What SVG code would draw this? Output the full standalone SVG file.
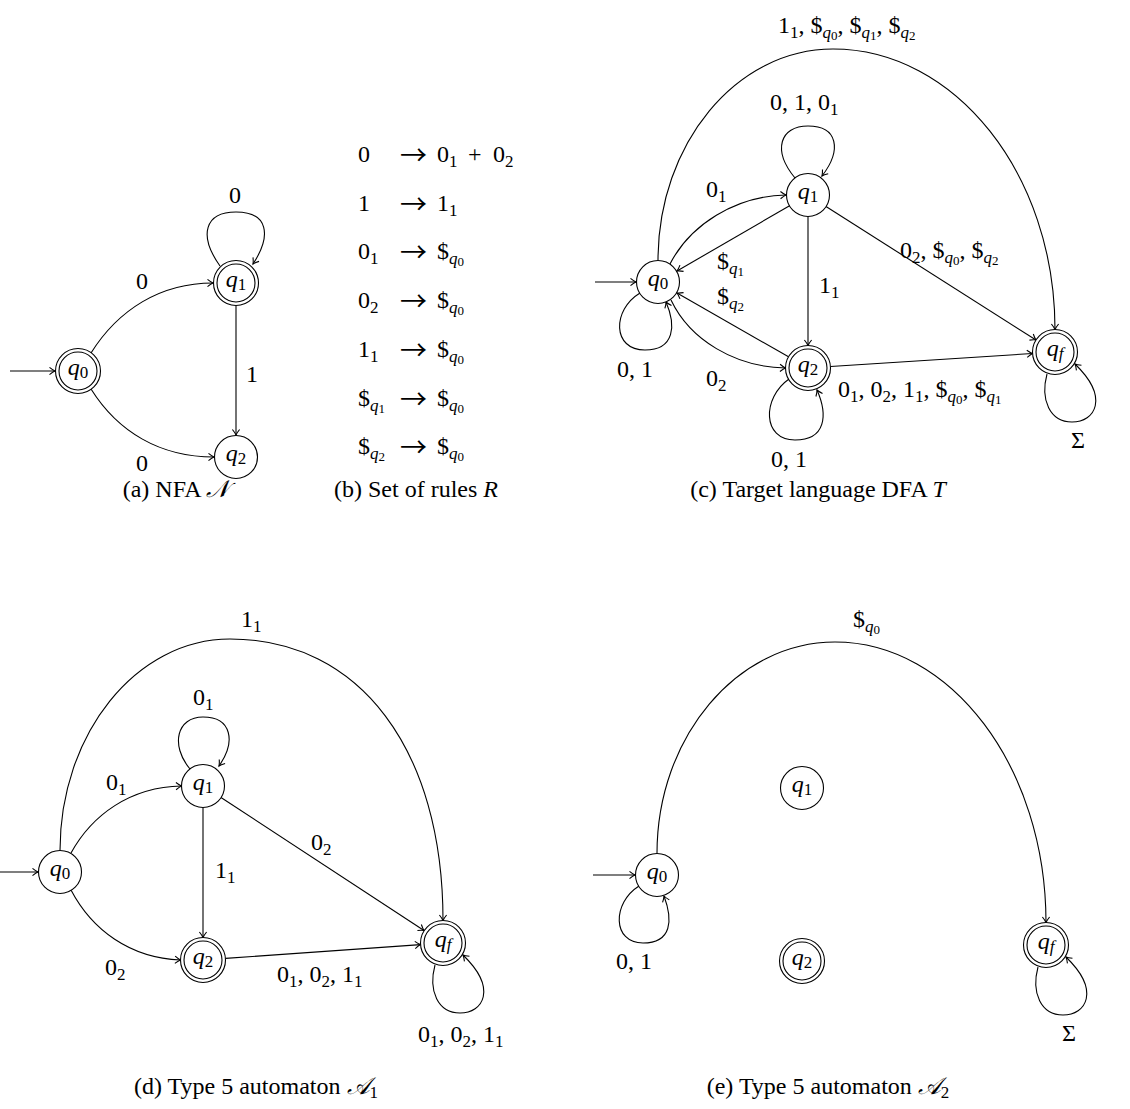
<svg xmlns="http://www.w3.org/2000/svg" width="1130" height="1109" viewBox="0 0 1130 1109">
<style>
text{font-family:"Liberation Serif","DejaVu Serif",serif;font-size:24px;fill:#000}
.i{font-style:italic}
.s{font-size:17px}
.ss{font-size:13px}
.c{font-family:"Liberation Serif","DejaVu Serif","DejaVu Sans",serif;font-style:italic}
.ar{font-family:"Noto Sans CJK SC","DejaVu Serif",sans-serif;font-size:27px}
circle{fill:#fff;stroke:#000;stroke-width:1.1}
.e path{fill:none;stroke:#000;stroke-width:1.1;marker-end:url(#ah)}
.m{text-anchor:middle}
</style>
<defs>
<marker id="ah" markerWidth="1" markerHeight="1" refX="0" refY="0" orient="auto" markerUnits="userSpaceOnUse" overflow="visible">
<path d="M-5.5,-3.6 Q-2,-0.8 0,0 Q-2,0.8 -5.5,3.6" fill="none" stroke="#000" stroke-width="1.1"/>
</marker>
</defs>

<!-- (a) NFA -->
<g id="a-edges" class="e">
<path d="M10 371 H55"/>
<path d="M91 353 C118 310, 160 283, 213 283"/>
<path d="M91 389 C118 432, 160 457, 214 457"/>
<path d="M236 305.5 V435"/>
<path d="M220 266 C198 235, 205 212, 236 212 C268 212, 272 235, 253 264"/>
</g>
<g id="a-labels">
<text class="m" x="142" y="289">0</text>
<text class="m" x="142" y="471">0</text>
<text class="m" x="235" y="203">0</text>
<text x="246" y="382">1</text>
</g>
<g id="a-q0"><circle cx="78" cy="371" r="22.5"/><circle cx="78" cy="371" r="19"/><text class="m" x="78" y="375"><tspan class="i">q</tspan><tspan class="s" dy="3">0</tspan></text></g>
<g id="a-q1"><circle cx="236" cy="283" r="22.5"/><circle cx="236" cy="283" r="19"/><text class="m" x="236" y="287"><tspan class="i">q</tspan><tspan class="s" dy="3">1</tspan></text></g>
<g id="a-q2"><circle cx="236" cy="457" r="21.5"/><text class="m" x="236" y="461"><tspan class="i">q</tspan><tspan class="s" dy="3">2</tspan></text></g>
<text class="m" x="176" y="497">(a) NFA <tspan class="c">𝒩</tspan></text>

<!-- (b) rules -->
<g id="rules">
<text x="358" y="162">0</text><text class="ar" x="400" y="165">→</text><text x="437" y="162">0<tspan class="s" dy="5">1</tspan><tspan dy="-5" x="468">+</tspan><tspan x="493">0</tspan><tspan class="s" dy="5">2</tspan></text>
<text x="358" y="210.7">1</text><text class="ar" x="400" y="213.7">→</text><text x="437" y="210.7">1<tspan class="s" dy="5">1</tspan></text>
<text x="358" y="259.4">0<tspan class="s" dy="5">1</tspan></text><text class="ar" x="400" y="262.4">→</text><text x="437" y="259.4">$<tspan class="s i" dy="5">q</tspan><tspan class="ss" dy="2">0</tspan></text>
<text x="358" y="308">0<tspan class="s" dy="5">2</tspan></text><text class="ar" x="400" y="311">→</text><text x="437" y="308">$<tspan class="s i" dy="5">q</tspan><tspan class="ss" dy="2">0</tspan></text>
<text x="358" y="356.8">1<tspan class="s" dy="5">1</tspan></text><text class="ar" x="400" y="359.8">→</text><text x="437" y="356.8">$<tspan class="s i" dy="5">q</tspan><tspan class="ss" dy="2">0</tspan></text>
<text x="358" y="405.5">$<tspan class="s i" dy="5">q</tspan><tspan class="ss" dy="2">1</tspan></text><text class="ar" x="400" y="408.5">→</text><text x="437" y="405.5">$<tspan class="s i" dy="5">q</tspan><tspan class="ss" dy="2">0</tspan></text>
<text x="358" y="454.2">$<tspan class="s i" dy="5">q</tspan><tspan class="ss" dy="2">2</tspan></text><text class="ar" x="400" y="457.2">→</text><text x="437" y="454.2">$<tspan class="s i" dy="5">q</tspan><tspan class="ss" dy="2">0</tspan></text>
</g>
<text class="m" x="416" y="497">(b) Set of rules <tspan class="i">R</tspan></text>

<!-- (c) DFA T -->
<g id="c-edges" class="e">
<path d="M595 282 H636"/>
<path d="M658 260.5 C658 144, 736 49, 833 49 C955 49, 1055 174, 1055 329.5"/>
<path d="M795 178 C772 150, 780 126, 808 126 C838 126, 842 150, 822 176"/>
<path d="M670 264 C690 225, 735 196, 786 195"/>
<path d="M790 205.5 L677 271"/>
<path d="M788.5 356.8 L677 293"/>
<path d="M671 300 C690 340, 735 367, 785.5 368"/>
<path d="M808 216.5 V345.5"/>
<path d="M826 206.5 L1036 340"/>
<path d="M830.5 366.5 L1032.5 353.5"/>
<path d="M640 293 C612 310, 612 350, 645 350 C675 350, 676 325, 666 302"/>
<path d="M789 379 C762 398, 762 440, 795 440 C826 440, 828 415, 817 390"/>
<path d="M1047 374 C1040 400, 1050 422, 1072 422 C1095 422, 1110 398, 1075 364"/>
</g>
<g id="c-labels">
<text x="778" y="33">1<tspan class="s" dy="5">1</tspan><tspan dy="-5">, $</tspan><tspan class="s i" dy="5">q</tspan><tspan class="ss" dy="2">0</tspan><tspan dy="-7">, $</tspan><tspan class="s i" dy="5">q</tspan><tspan class="ss" dy="2">1</tspan><tspan dy="-7">, $</tspan><tspan class="s i" dy="5">q</tspan><tspan class="ss" dy="2">2</tspan></text>
<text x="770" y="110">0, 1, 0<tspan class="s" dy="5">1</tspan></text>
<text x="706" y="197">0<tspan class="s" dy="5">1</tspan></text>
<text x="717" y="269">$<tspan class="s i" dy="5">q</tspan><tspan class="ss" dy="2">1</tspan></text>
<text x="717" y="304">$<tspan class="s i" dy="5">q</tspan><tspan class="ss" dy="2">2</tspan></text>
<text x="819" y="293">1<tspan class="s" dy="5">1</tspan></text>
<text x="900" y="258">0<tspan class="s" dy="5">2</tspan><tspan dy="-5">, $</tspan><tspan class="s i" dy="5">q</tspan><tspan class="ss" dy="2">0</tspan><tspan dy="-7">, $</tspan><tspan class="s i" dy="5">q</tspan><tspan class="ss" dy="2">2</tspan></text>
<text x="838" y="396.5">0<tspan class="s" dy="5">1</tspan><tspan dy="-5">, 0</tspan><tspan class="s" dy="5">2</tspan><tspan dy="-5">, 1</tspan><tspan class="s" dy="5">1</tspan><tspan dy="-5">, $</tspan><tspan class="s i" dy="5">q</tspan><tspan class="ss" dy="2">0</tspan><tspan dy="-7">, $</tspan><tspan class="s i" dy="5">q</tspan><tspan class="ss" dy="2">1</tspan></text>
<text x="706" y="386">0<tspan class="s" dy="5">2</tspan></text>
<text x="617" y="376.5">0, 1</text>
<text x="771" y="467">0, 1</text>
<text x="1071" y="448">Σ</text>
</g>
<g id="c-q0"><circle cx="658" cy="282" r="21.5"/><text class="m" x="658" y="286"><tspan class="i">q</tspan><tspan class="s" dy="3">0</tspan></text></g>
<g id="c-q1"><circle cx="808" cy="195" r="21.5"/><text class="m" x="808" y="199"><tspan class="i">q</tspan><tspan class="s" dy="3">1</tspan></text></g>
<g id="c-q2"><circle cx="808" cy="368" r="22.5"/><circle cx="808" cy="368" r="19"/><text class="m" x="808" y="372"><tspan class="i">q</tspan><tspan class="s" dy="3">2</tspan></text></g>
<g id="c-qf"><circle cx="1055" cy="352" r="22.5"/><circle cx="1055" cy="352" r="19"/><text class="m" x="1055" y="356"><tspan class="i">q</tspan><tspan class="s i" dy="3">f</tspan></text></g>
<text class="m" x="818" y="497">(c) Target language DFA <tspan class="i">T</tspan></text>

<!-- (d) A1 -->
<g id="d-edges" class="e">
<path d="M0 872 H38"/>
<path d="M60 850.5 C60 734, 136 639, 230 639 C360 639, 443 750, 443 920.5"/>
<path d="M190 769 C170 745, 177 717, 203 717 C232 717, 236 742, 219 766"/>
<path d="M71 853 C92 815, 130 787, 181.5 786"/>
<path d="M71 890 C92 930, 130 958, 180.5 960"/>
<path d="M203 807.5 V937.5"/>
<path d="M221 797.5 L424 930.5"/>
<path d="M225.5 958.4 L420.5 944.6"/>
<path d="M435 965 C428 991, 438 1013, 460 1013 C483 1013, 498 989, 463 955"/>
</g>
<g id="d-labels">
<text x="241" y="627">1<tspan class="s" dy="5">1</tspan></text>
<text x="193" y="705">0<tspan class="s" dy="5">1</tspan></text>
<text x="106" y="790">0<tspan class="s" dy="5">1</tspan></text>
<text x="311" y="850">0<tspan class="s" dy="5">2</tspan></text>
<text x="215" y="878">1<tspan class="s" dy="5">1</tspan></text>
<text x="105" y="975">0<tspan class="s" dy="5">2</tspan></text>
<text x="277" y="981.5">0<tspan class="s" dy="5">1</tspan><tspan dy="-5">, 0</tspan><tspan class="s" dy="5">2</tspan><tspan dy="-5">, 1</tspan><tspan class="s" dy="5">1</tspan></text>
<text x="418" y="1041.5">0<tspan class="s" dy="5">1</tspan><tspan dy="-5">, 0</tspan><tspan class="s" dy="5">2</tspan><tspan dy="-5">, 1</tspan><tspan class="s" dy="5">1</tspan></text>
</g>
<g id="d-q0"><circle cx="60" cy="872" r="21.5"/><text class="m" x="60" y="876"><tspan class="i">q</tspan><tspan class="s" dy="3">0</tspan></text></g>
<g id="d-q1"><circle cx="203" cy="786" r="21.5"/><text class="m" x="203" y="790"><tspan class="i">q</tspan><tspan class="s" dy="3">1</tspan></text></g>
<g id="d-q2"><circle cx="203" cy="960" r="22.5"/><circle cx="203" cy="960" r="19"/><text class="m" x="203" y="964"><tspan class="i">q</tspan><tspan class="s" dy="3">2</tspan></text></g>
<g id="d-qf"><circle cx="443" cy="943" r="22.5"/><circle cx="443" cy="943" r="19"/><text class="m" x="443" y="947"><tspan class="i">q</tspan><tspan class="s i" dy="3">f</tspan></text></g>
<text class="m" x="256" y="1094">(d) Type 5 automaton <tspan class="c">𝒜</tspan><tspan class="s" dy="4">1</tspan></text>

<!-- (e) A2 -->
<g id="e-edges" class="e">
<path d="M593 875 H635"/>
<path d="M657 853.5 C657 737, 737 642, 835 642 C951 642, 1046 767, 1046 922.5"/>
<path d="M639 886 C612 903, 612 943, 643 943 C672 943, 673 920, 664 896"/>
<path d="M1038 967 C1031 993, 1041 1015, 1063 1015 C1086 1015, 1101 991, 1066 957"/>
</g>
<g id="e-labels">
<text x="853" y="627">$<tspan class="s i" dy="5">q</tspan><tspan class="ss" dy="2">0</tspan></text>
<text x="616" y="969">0, 1</text>
<text x="1062" y="1040.5">Σ</text>
</g>
<g id="e-q0"><circle cx="657" cy="875" r="21.5"/><text class="m" x="657" y="879"><tspan class="i">q</tspan><tspan class="s" dy="3">0</tspan></text></g>
<g id="e-q1"><circle cx="802" cy="788" r="21.5"/><text class="m" x="802" y="792"><tspan class="i">q</tspan><tspan class="s" dy="3">1</tspan></text></g>
<g id="e-q2"><circle cx="802" cy="961" r="22.5"/><circle cx="802" cy="961" r="19"/><text class="m" x="802" y="965"><tspan class="i">q</tspan><tspan class="s" dy="3">2</tspan></text></g>
<g id="e-qf"><circle cx="1046" cy="945" r="22.5"/><circle cx="1046" cy="945" r="19"/><text class="m" x="1046" y="949"><tspan class="i">q</tspan><tspan class="s i" dy="3">f</tspan></text></g>
<text class="m" x="828" y="1094">(e) Type 5 automaton <tspan class="c">𝒜</tspan><tspan class="s" dy="4">2</tspan></text>
</svg>
